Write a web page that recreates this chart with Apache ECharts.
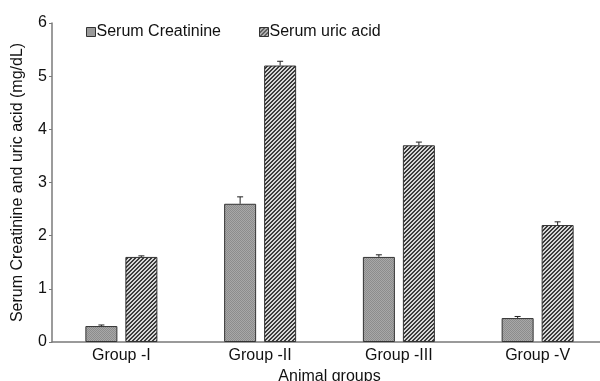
<!DOCTYPE html>
<html>
<head>
<meta charset="utf-8">
<script src="https://cdn.jsdelivr.net/npm/echarts@6/dist/echarts.min.js"></script>
<style>
  html, body { margin: 0; padding: 0; background: #fff; }
  #chart { width: 600px; height: 381px; }
</style>
</head>
<body>
<div id="chart"></div>
<script>
// Group labels and measured values (mg/dL)
const groups = ['Group -I', 'Group -II', 'Group -III', 'Group -V'];
const creatinine = [0.30, 2.60, 1.60, 0.45];
const creatinineErr = [0.02, 0.13, 0.04, 0.03];
const uricAcid = [1.60, 5.20, 3.70, 2.20];
const uricAcidErr = [0.02, 0.08, 0.06, 0.06];
const yTicks = [0, 1, 2, 3, 4, 5, 6];

const BAR_W = 32;
const BAR_GAP_PX = 8;
const FONT = 'Liberation Sans, Arial, sans-serif';

// Fine stippled grey fill
function dotPattern() {
  const c = document.createElement('canvas');
  c.width = 2; c.height = 2;
  const g = c.getContext('2d');
  g.fillStyle = '#a8a8a8'; g.fillRect(0, 0, 2, 2);
  g.fillStyle = '#8c8c8c'; g.fillRect(0, 0, 1, 1); g.fillRect(1, 1, 1, 1);
  return c;
}
// Forward-slash diagonal hatch fill
function hatchPattern() {
  const n = 4;
  const c = document.createElement('canvas');
  c.width = n; c.height = n;
  const g = c.getContext('2d');
  g.fillStyle = '#d6d6d6'; g.fillRect(0, 0, n, n);
  g.fillStyle = '#3a3a3a';
  for (let y = 0; y < n; y++) {
    for (let x = 0; x < n; x++) {
      const d = (x + y) % n;
      if (d === 0 || d === 1) g.fillRect(x, y, 1, 1);
    }
  }
  return c;
}
const dotFill = { image: dotPattern(), repeat: 'repeat' };
const hatchFill = { image: hatchPattern(), repeat: 'repeat' };

// Upward error whisker with a cap, shifted to sit over its bar
function errorBar(values, errs, shift) {
  return function (params, api) {
    const i = api.value(0);
    const top = api.coord([i, values[i] + errs[i]]);
    const base = api.coord([i, values[i]]);
    const x = top[0] + shift;
    return {
      type: 'group',
      children: [
        { type: 'line', shape: { x1: x, y1: base[1], x2: x, y2: top[1] },
          style: { stroke: '#222', lineWidth: 1 } },
        { type: 'line', shape: { x1: x - 3, y1: top[1], x2: x + 3, y2: top[1] },
          style: { stroke: '#222', lineWidth: 1 } }
      ]
    };
  };
}
const half = (BAR_W + BAR_GAP_PX) / 2;

const chart = echarts.init(document.getElementById('chart'), null, { renderer: 'canvas' });
chart.setOption({
  animation: false,
  backgroundColor: '#fff',
  grid: { left: 52, right: -7, top: 23, bottom: 39, containLabel: false, outerBoundsMode: 'none' },
  legend: {
    left: 86, top: 24, padding: 0,
    itemWidth: 9, itemHeight: 9, itemGap: 38,
    icon: 'rect',
    textStyle: { fontFamily: FONT, fontSize: 16, color: '#111', padding: [0, 0, 0, -4] },
    data: [
      { name: 'Serum Creatinine', itemStyle: { color: dotFill, borderColor: '#333', borderWidth: 1 } },
      { name: 'Serum uric acid', itemStyle: { color: hatchFill, borderColor: '#333', borderWidth: 1 } }
    ]
  },
  xAxis: {
    type: 'category',
    data: groups,
    name: 'Animal groups',
    nameLocation: 'middle',
    nameGap: 25,
    nameTextStyle: { fontFamily: FONT, fontSize: 16, color: '#111' },
    axisLine: { lineStyle: { color: '#7a7a7a', width: 1.5 } },
    axisTick: { show: false },
    axisLabel: { fontFamily: FONT, fontSize: 16, color: '#111', margin: 6 }
  },
  yAxis: {
    type: 'value',
    min: yTicks[0], max: yTicks[yTicks.length - 1], interval: 1,
    name: 'Serum Creatinine and uric acid (mg/dL)',
    nameLocation: 'middle',
    nameGap: 26,
    nameTextStyle: { fontFamily: FONT, fontSize: 16, color: '#111' },
    axisLine: { show: true, lineStyle: { color: '#7a7a7a', width: 1.5 } },
    axisTick: { show: true, length: 3, lineStyle: { color: '#7a7a7a' } },
    splitLine: { show: false },
    axisLabel: { fontFamily: FONT, fontSize: 16, color: '#111', margin: 5 }
  },
  series: [
    {
      name: 'Serum Creatinine', type: 'bar', data: creatinine,
      barWidth: BAR_W, barGap: (BAR_GAP_PX / BAR_W * 100) + '%',
      itemStyle: { color: dotFill, borderColor: '#333', borderWidth: 1 }
    },
    {
      name: 'Serum uric acid', type: 'bar', data: uricAcid,
      barWidth: BAR_W,
      itemStyle: { color: hatchFill, borderColor: '#333', borderWidth: 1 }
    },
    {
      type: 'custom', data: groups.map((g, i) => [i]), z: 5,
      renderItem: errorBar(creatinine, creatinineErr, -half), silent: true
    },
    {
      type: 'custom', data: groups.map((g, i) => [i]), z: 5,
      renderItem: errorBar(uricAcid, uricAcidErr, half), silent: true
    }
  ]
});
</script>
</body>
</html>
